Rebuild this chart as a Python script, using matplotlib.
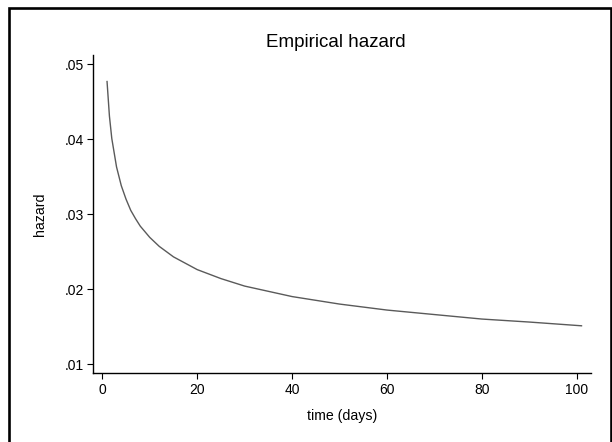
import matplotlib
matplotlib.use("Agg")
import matplotlib.pyplot as plt
from matplotlib.patches import Rectangle

plt.rcParams['font.family'] = ['Liberation Sans', 'DejaVu Sans']

# Data
time_days = [1, 1.5, 2, 3, 4, 5, 6, 7, 8, 10, 12, 15, 20, 25, 30, 35, 40,
             50, 60, 70, 80, 90, 101]
hazard = [0.0477, 0.0431, 0.0401, 0.0363, 0.0338, 0.0320, 0.0305, 0.0294,
          0.0284, 0.0269, 0.0257, 0.0243, 0.0226, 0.0214, 0.0204, 0.0197,
          0.0190, 0.0180, 0.0172, 0.0166, 0.0160, 0.0156, 0.0151]
x_ticks = [0, 20, 40, 60, 80, 100]
y_ticks = [0.01, 0.02, 0.03, 0.04, 0.05]
y_tick_labels = ['.01', '.02', '.03', '.04', '.05']
title = "Empirical hazard"
x_label = "time (days)"
y_label = "hazard"

W, H = 612, 442
fig = plt.figure(figsize=(W / 100, H / 100), dpi=100)
fig.patch.set_facecolor('white')

left, right, top, bottom = 93, 591, 55, 373
ax = fig.add_axes([left / W, 1 - bottom / H, (right - left) / W, (bottom - top) / H])
ax.plot(time_days, hazard, color='#5a5a5a', lw=1.0)

ax.set_xlim(-1.96, 103.0)
ax.set_ylim(0.0088, 0.05124)
ax.set_xticks(x_ticks)
ax.set_yticks(y_ticks)
ax.set_yticklabels(y_tick_labels)
for s in ['top', 'right']:
    ax.spines[s].set_visible(False)
for s in ['left', 'bottom']:
    ax.spines[s].set_linewidth(1.0)
    ax.spines[s].set_color('black')
ax.tick_params(axis='both', direction='out', length=4.5, width=0.8,
               color='black', labelsize=10, labelcolor='black')
ax.tick_params(axis='y', pad=1.8)
ax.tick_params(axis='x', pad=3)

fig.text(342.5 / W, 1 - 420 / H, x_label, ha='center', va='baseline',
         fontsize=10.2)
fig.text(39.5 / W, 1 - 214.7 / H, y_label, rotation=90, ha='center',
         va='center', fontsize=10.2)
fig.text(336 / W, 1 - 46.7 / H, title, ha='center', va='baseline',
         fontsize=13.5)

# outer border
fig.add_artist(Rectangle((8.7 / W, -0.05), (610.8 - 8.7) / W, 1.05 - 8 / H,
                         transform=fig.transFigure, fill=False,
                         edgecolor='black', lw=1.9, clip_on=False))

fig.savefig('out.png', dpi=100, facecolor='white')
